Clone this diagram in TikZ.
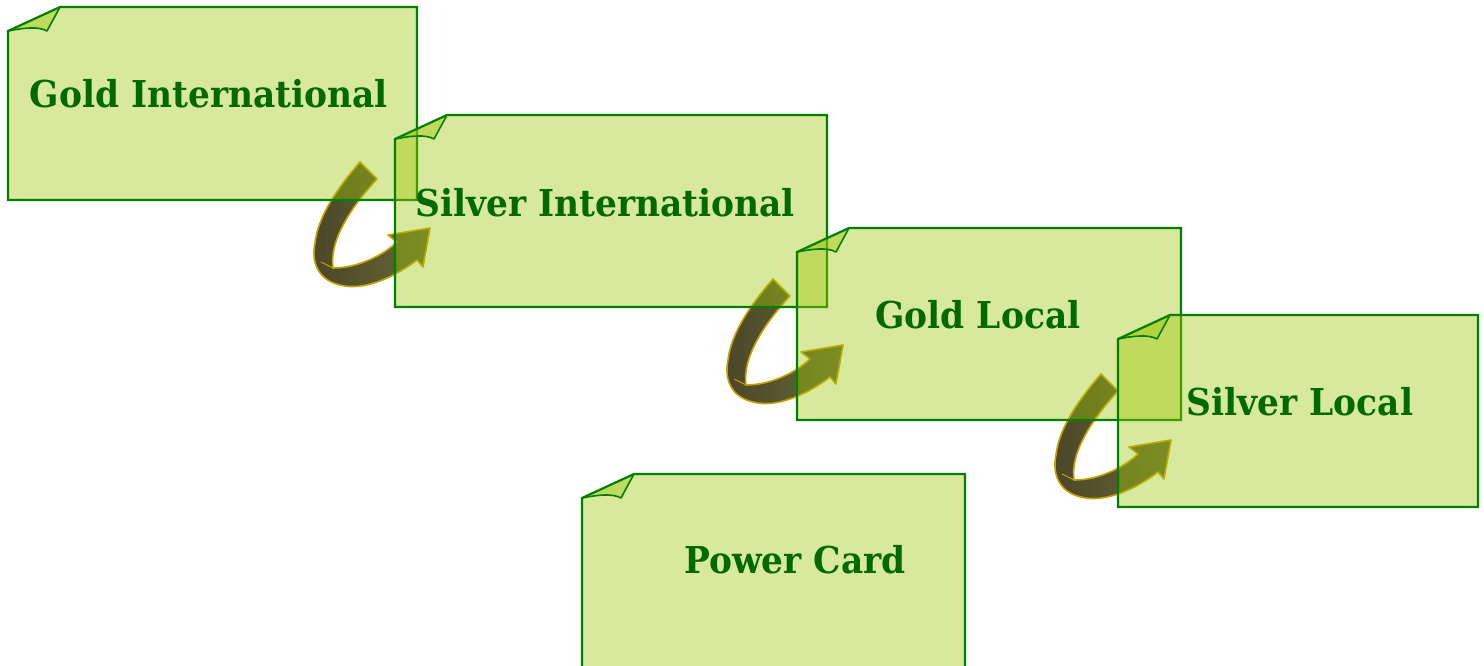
\documentclass[tikz,border=0pt]{standalone}
\usepackage{fontspec}
\setmainfont{DejaVu Serif}
\definecolor{cardfillc}{RGB}{157,197,7}
\definecolor{cardline}{RGB}{0,128,0}
\definecolor{cardtext}{RGB}{0,105,0}
\definecolor{arrowdark}{RGB}{74,70,40}
\definecolor{arrowlight}{RGB}{104,104,54}
\definecolor{arrowline}{RGB}{200,160,0}
\tikzset{
  cardfill/.style={fill=cardfillc, fill opacity=0.4},
  cardedge/.style={draw=cardline, line width=1.1pt, line join=miter},
  foldedge/.style={draw=cardline, line width=0.8pt, line join=round},
  cardlabel/.style={text=cardtext, font=\bfseries\fontsize{18.5}{22}\selectfont, anchor=base, inner sep=0pt},
  ribbon/.style={left color=arrowdark, right color=arrowlight, draw=arrowline, line width=0.8pt, line join=round},
}
\newcommand\lbl[1]{\scalebox{0.93}[1]{#1}}
\newcommand\card[4]{%
  \path[cardfill] (#1,#2+24) -- (#1+52,#2) -- (#3,#2) -- (#3,#4) -- (#1,#4) -- cycle;
  \path[cardfill] (#1+52,#2) -- (#1+39,#2+24) .. controls (#1+30,#2+19) and (#1+15,#2+21) .. (#1,#2+24) -- cycle;
  \path[foldedge] (#1+52,#2) -- (#1+39,#2+24) .. controls (#1+30,#2+19) and (#1+15,#2+21) .. (#1,#2+24);
  \path[cardedge] (#1,#2+24) -- (#1+52,#2) -- (#3,#2) -- (#3,#4) -- (#1,#4) -- cycle;
}
\newcommand\ribbonarrow[2]{%
  \begin{scope}[shift={(#1,#2)}]
    \path[ribbon] (360,162) -- (377,179)
      .. controls (352,206) and (329,240) .. (333,268)
      .. controls (356,268) and (381,257) .. (397,242)
      -- (388,235) -- (430,228) -- (423,267) -- (417,260)
      .. controls (392,279) and (362,291) .. (340,285)
      .. controls (318,280) and (311,262) .. (315,243)
      .. controls (318,215) and (340,185) .. (360,162) -- cycle;
    \path[draw=arrowline, line width=0.5pt] (333,268) -- (321,262);
  \end{scope}
}
\begin{document}
\begin{tikzpicture}[x=0.5pt, y=-0.5pt]
  \useasboundingbox (0,0) rectangle (1484,665);
  % ribbon arrows (behind the cards)
  \ribbonarrow{0}{0}
  \ribbonarrow{413}{117}
  \ribbonarrow{741}{212}
  % cards
  \card{8}{7}{417}{200}
  \card{395}{115}{827}{307}
  \card{797}{228}{1181}{420}
  \card{1118}{315}{1478}{507}
  \card{582}{474}{965}{672}
  % labels
  \node[cardlabel] (goldint) at (209,107) {\lbl{Gold International}};
  \node[cardlabel] (silverint) at (605,216) {\lbl{Silver International}};
  \node[cardlabel] (goldloc) at (978,328) {\lbl{Gold Local}};
  \node[cardlabel] (silverloc) at (1300,415) {\lbl{Silver Local}};
  \node[cardlabel] (power) at (795,573) {\lbl{Power Card}};
\end{tikzpicture}
\end{document}
